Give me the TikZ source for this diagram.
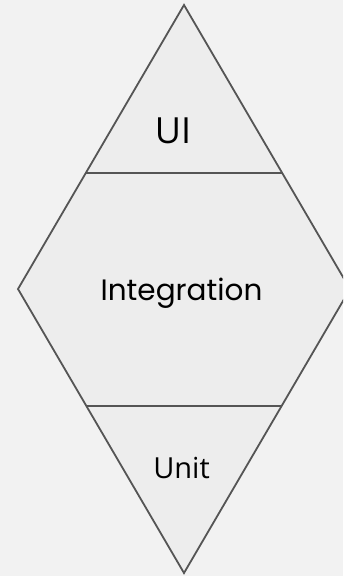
\documentclass[tikz,border=0pt]{standalone}
\usepackage{fontspec}
\newfontfamily\labelfont{Open Sans}
\newfontfamily\midfont{Poppins}
\definecolor{bgcol}{HTML}{F2F2F2}
\definecolor{facecol}{HTML}{EDEDED}
\definecolor{edgecol}{HTML}{555555}
\begin{document}
\begin{tikzpicture}[x=1pt,y=-1pt,
  outline/.style={draw=edgecol,line width=1.8pt,line join=miter},
  divider/.style={draw=edgecol,line width=1.8pt},
  lbl/.style={inner sep=0pt,text=black}]
  \clip (0,0) rectangle (343,576);
  \fill[bgcol] (0,0) rectangle (343,576);
  % corner points of the diamond
  \coordinate (top) at (184,5);
  \coordinate (left) at (18,289);
  \coordinate (right) at (350,289);
  \coordinate (bottom) at (184,573);
  % ends of the two dividing lines
  \coordinate (ul) at (85.8,173);
  \coordinate (ur) at (282.2,173);
  \coordinate (dl) at (86.4,406);
  \coordinate (dr) at (281.6,406);
  \path[outline,fill=facecol] (top) -- (right) -- (bottom) -- (left) -- cycle;
  \draw[divider] (ul) -- (ur);
  \draw[divider] (dl) -- (dr);
  \node[lbl] (ui) at (173,131) {\labelfont\fontsize{36}{40}\selectfont UI};
  \node[lbl] (integ) at (181.5,293) {\midfont\fontsize{29.5}{34}\selectfont Integration};
  \node[lbl] (unit) at (181.5,468) {\labelfont\fontsize{29}{34}\selectfont Unit};
\end{tikzpicture}
\end{document}
